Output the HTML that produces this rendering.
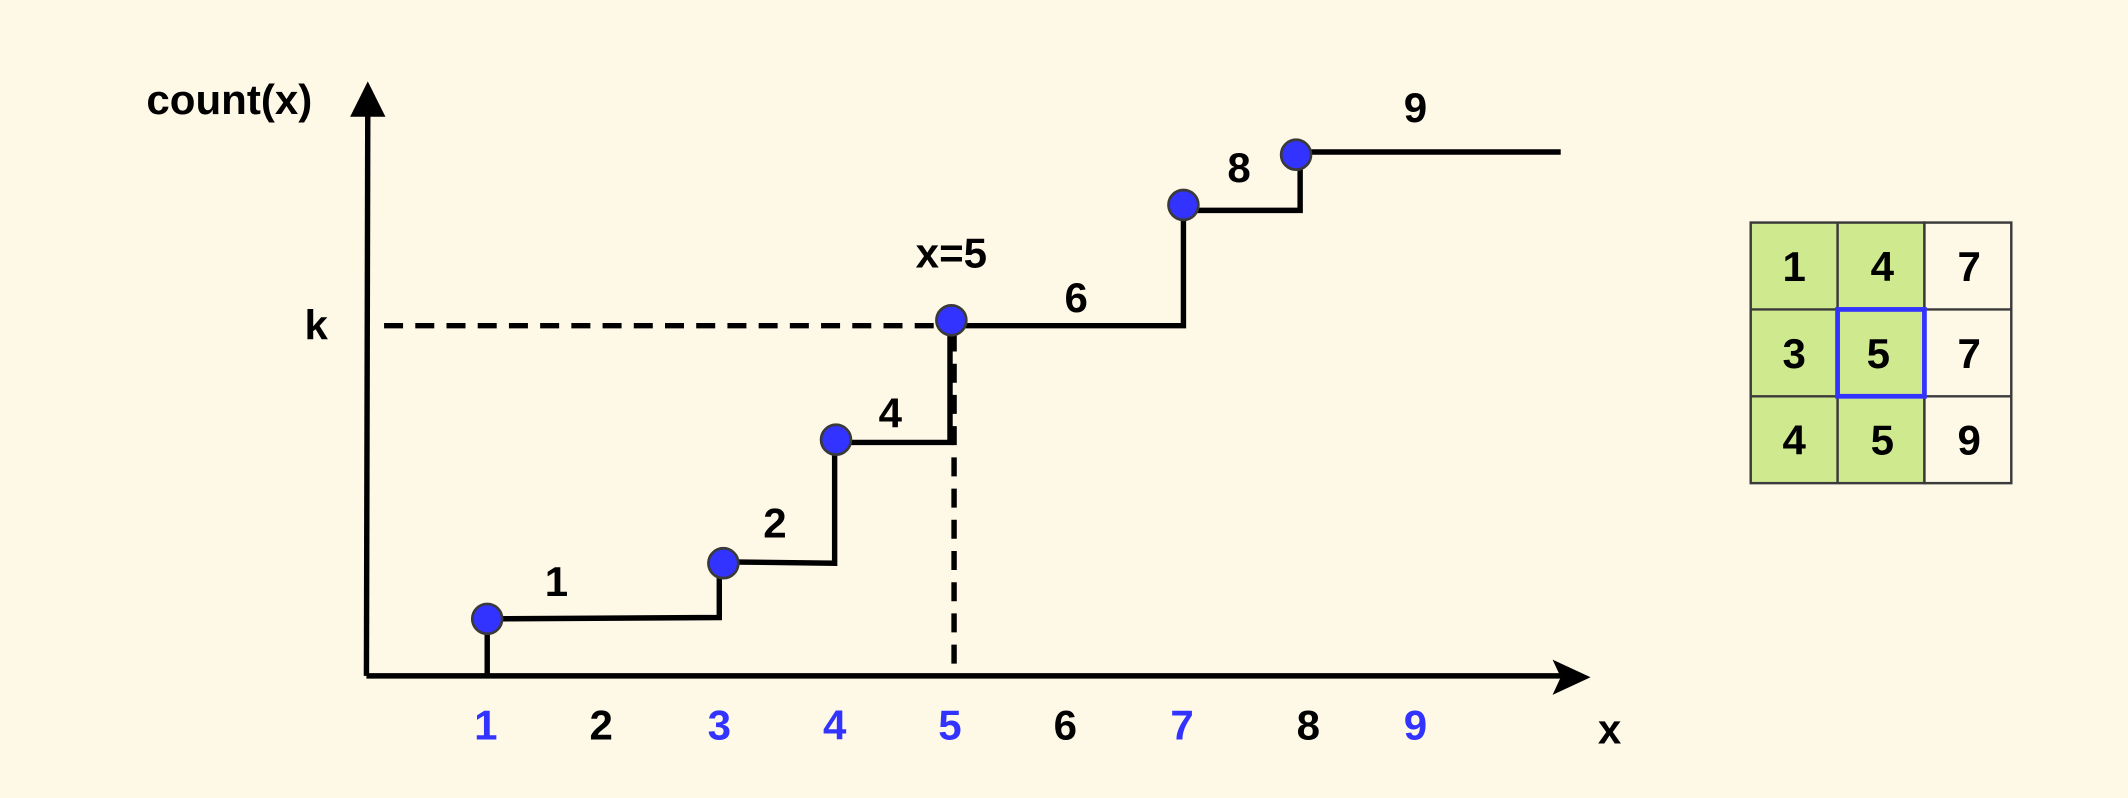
<!DOCTYPE html>
<html><head><style>
html,body{margin:0;padding:0;background:#fef8e7;}
svg{display:block}
text{font-family:"Liberation Sans",sans-serif;font-weight:bold;}
</style></head><body>
<svg width="2128" height="798" viewBox="0 0 1568 588" xmlns="http://www.w3.org/2000/svg">
<rect width="1568" height="588" fill="#fef8e7"/>
<g stroke="#000" stroke-width="4" fill="none">
<line x1="270" y1="498" x2="271" y2="78"/>
<line x1="270" y1="498" x2="1150" y2="498"/>
<line x1="283" y1="240" x2="700" y2="240" stroke-dasharray="14,9"/>
<line x1="703" y1="245" x2="703" y2="498" stroke-dasharray="14,9"/>
<polyline points="359,498 359,456 530,455 530,415 533,414 615,415 615,326 700,326 700,240 872,240 872,155 958,155 958,112 1150,112"/>
</g>
<polygon points="271,60 258,86 284,86" fill="#000"/>
<polygon points="1172,499 1144,486 1150,499 1144,512" fill="#000"/>
<g fill="#3333ff" stroke="#3a3a3a" stroke-width="2">
<circle cx="359" cy="456" r="11"/><circle cx="533" cy="415" r="11"/><circle cx="616" cy="324" r="11"/>
<circle cx="701" cy="236" r="11"/><circle cx="872" cy="151" r="11"/><circle cx="955" cy="114" r="11"/>
</g>
<g font-size="31" text-anchor="middle" fill="#000">
<text x="169" y="84">count(x)</text>
<text x="1186" y="548">x</text>
<text x="233" y="250">k</text>
<text x="410" y="439">1</text>
<text x="571" y="396">2</text>
<text x="656" y="315">4</text>
<text x="701" y="197">x=5</text>
<text x="793" y="230">6</text>
<text x="913" y="134">8</text>
<text x="1043" y="90">9</text>
</g>
<g font-size="31" text-anchor="middle">
<text x="358" y="545" fill="#3333ff">1</text>
<text x="443" y="545" fill="#000">2</text>
<text x="530" y="545" fill="#3333ff">3</text>
<text x="615" y="545" fill="#3333ff">4</text>
<text x="700" y="545" fill="#3333ff">5</text>
<text x="785" y="545" fill="#000">6</text>
<text x="871" y="545" fill="#3333ff">7</text>
<text x="964" y="545" fill="#000">8</text>
<text x="1043" y="545" fill="#3333ff">9</text>
</g>
<g stroke="#3a3a3a" stroke-width="1.8">
<rect x="1290" y="164" width="128" height="192" fill="#cfe98f"/>
<rect x="1418" y="164" width="64" height="192" fill="#fef8e7"/>
<line x1="1354" y1="164" x2="1354" y2="356"/>
<line x1="1290" y1="228" x2="1482" y2="228"/>
<line x1="1290" y1="292" x2="1482" y2="292"/>
</g>
<rect x="1354" y="228" width="64" height="64" fill="none" stroke="#3333ff" stroke-width="3.5"/>
<g font-size="31" text-anchor="middle" fill="#000">
<text x="1322" y="207">1</text><text x="1387" y="207">4</text><text x="1451" y="207">7</text>
<text x="1322" y="271">3</text><text x="1384" y="271">5</text><text x="1451" y="271">7</text>
<text x="1322" y="335">4</text><text x="1387" y="335">5</text><text x="1451" y="335">9</text>
</g>
</svg>
</body></html>
